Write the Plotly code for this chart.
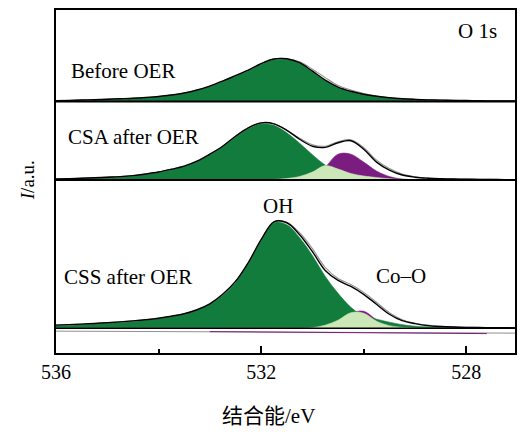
import plotly.graph_objects as go

# binding energy grid (eV)
energy = [536.0, 535.75, 535.5, 535.25, 535.0, 534.75, 534.5, 534.25, 534.0, 533.75,
          533.5, 533.25, 533.0, 532.75, 532.5, 532.25, 532.0, 531.75, 531.5, 531.25,
          531.0, 530.75, 530.5, 530.25, 530.0, 529.75, 529.5, 529.25, 529.0, 528.75,
          528.5, 528.25, 528.0, 527.75, 527.5, 527.25, 527.0]

# Before OER
p1_oh = [0.5, 0.8, 1.2, 1.6, 2.0, 2.5, 3.0, 3.8, 4.8, 6.2, 8.2, 11, 15, 20, 25.5, 31, 37.5, 42, 42.5, 38.5,
         30, 21, 14, 10, 7, 5, 3.5, 2.5, 2, 1.5, 1.2, 1, 0.8, 0.6, 0.5, 0.4, 0.3]
p1_fit = [0.7, 1, 1.4, 1.8, 2.2, 2.7, 3.2, 4, 5, 6.5, 8.5, 11.5, 15.5, 20.5, 26, 31.5, 38, 42.7, 43, 39,
          30.5, 21.5, 14.5, 10.3, 7.3, 5.2, 3.7, 2.7, 2.1, 1.6, 1.3, 1.1, 0.9, 0.7, 0.6, 0.5, 0.4]
p1_raw = [0.7, 1, 1.4, 1.8, 2.2, 2.7, 3.2, 4, 5, 6.5, 8.5, 11.5, 15.5, 20.5, 26, 31.5, 38, 42.7, 43, 40,
          32.5, 24, 16, 11.5, 8, 5.5, 3.8, 2.8, 2.1, 1.6, 1.3, 1.1, 0.9, 0.7, 0.6, 0.5, 0.4]

# CSA after OER
p2_oh = [1, 1.3, 1.7, 2.2, 2.8, 3.3, 4.3, 5.8, 7.8, 10.5, 13.5, 18.5, 25.5, 33.5, 43, 51.5, 56.5, 55, 47.5, 37,
         25.5, 15, 8, 4, 2, 1, 0.5, 0.3, 0.2, 0.2, 0.2, 0.2, 0.1, 0.1, 0.1, 0.1, 0.1]
p2_mid = [0, 0, 0, 0, 0, 0, 0, 0, 0, 0, 0, 0, 0, 0, 0, 0, 0.2, 0.5, 1.5, 3.5,
          8, 14.5, 11, 6.5, 4, 2.5, 1.2, 0.5, 0.2, 0, 0, 0, 0, 0, 0, 0, 0]
p2_coo = [0, 0, 0, 0, 0, 0, 0, 0, 0, 0, 0, 0, 0, 0, 0, 0, 0, 0, 0, 0.5,
          3, 13, 26, 26, 18, 9, 3.5, 1, 0.3, 0, 0, 0, 0, 0, 0, 0, 0]
p2_fit = [1, 1.3, 1.7, 2.2, 2.8, 3.4, 4.4, 6, 8, 10.8, 14, 19, 26, 34, 44, 52.5, 57.5, 56.5, 50, 41,
          34, 32.8, 37.5, 39.5, 31, 18, 10, 5, 2.8, 1.8, 1.3, 1, 0.8, 0.6, 0.5, 0.4, 0.3]
p2_raw = [1, 1.3, 1.7, 2.2, 2.8, 3.4, 4.4, 6, 8, 10.8, 14, 19, 26, 34, 44, 52.5, 57.5, 56.5, 50, 42,
          35.5, 34, 38.5, 40.5, 32.5, 20, 11.5, 6, 3.3, 2, 1.4, 1.1, 0.9, 0.7, 0.6, 0.5, 0.4]

# CSS after OER
p3_oh = [2.5, 3, 3.5, 4.2, 5, 5.8, 6.8, 8, 9.5, 11.5, 14, 18, 24, 33, 46, 65, 88, 106, 104, 91,
         73, 52, 35, 21, 12, 9, 6, 3.5, 2, 1.3, 1, 0.8, 0.6, 0.5, 0.4, 0.3, 0.3]
p3_mid = [0, 0, 0, 0, 0, 0, 0, 0, 0, 0, 0, 0, 0, 0, 0, 0, 0, 0, 0, 0,
          0.5, 3, 8, 15.5, 15, 7, 2.5, 0.8, 0.2, 0, 0, 0, 0, 0, 0, 0, 0]
p3_coo = [0, 0, 0, 0, 0, 0, 0, 0, 0, 0, 0, 0, 0, 0, 0, 0, 0, 0, 0, 0,
          0, 1, 6, 15, 17, 8.5, 3, 0.8, 0, 0, 0, 0, 0, 0, 0, 0, 0]
p3_fit = [3, 3.5, 4, 4.7, 5.5, 6.3, 7.3, 8.5, 10, 12, 14.5, 18.5, 24.5, 34, 47, 66, 89, 107, 106, 94,
          77, 58, 48, 42, 34, 24, 14, 7.5, 4.5, 2.5, 1.6, 1.1, 0.8, 0.6, 0.5, 0.4, 0.3]
p3_raw = [3, 3.5, 4, 4.7, 5.5, 6.3, 7.3, 8.5, 10, 12, 14.5, 18.5, 24.5, 34, 47, 66, 89, 107, 106.5, 96,
          80, 61, 50, 44, 36, 26, 15.5, 8.5, 5, 3, 1.8, 1.2, 0.9, 0.7, 0.5, 0.4, 0.3]

panel_names = ["Before OER", "CSA after OER", "CSS after OER"]
peak_labels = ["OH", "Co–O"]
tick_vals = [536, 532, 528]
minor_vals = [534, 530]

# vertical offsets of the stacked spectra (layout)
OFF1, OFF2, OFF3 = 253, 174, 25

GREEN = "#127c3d"
LIGHT = "#cce7b8"
PURPLE = "#7b1d80"
GRAY = "#8f8f8f"

fig = go.Figure()


def add_fill(vals, off, color):
    fig.add_trace(go.Scatter(x=energy, y=[off] * len(energy), mode="lines",
                             line=dict(width=0, color=color), hoverinfo="skip", showlegend=False))
    fig.add_trace(go.Scatter(x=energy, y=[off + v for v in vals], mode="lines",
                             line=dict(width=0.6, color=color, shape="spline"),
                             fill="tonexty", fillcolor=color, hoverinfo="skip", showlegend=False))


def add_line(vals, off, color, width):
    fig.add_trace(go.Scatter(x=energy, y=[off + v for v in vals], mode="lines",
                             line=dict(width=width, color=color, shape="spline"),
                             hoverinfo="skip", showlegend=False))


# panel 3
add_fill(p3_coo, OFF3, PURPLE)
add_fill(p3_oh, OFF3, GREEN)
add_fill(p3_mid, OFF3, LIGHT)
add_line(p3_raw, OFF3, GRAY, 1.1)
add_line(p3_fit, OFF3, "black", 1.4)

# panel 2
add_fill(p2_coo, OFF2, PURPLE)
add_fill(p2_oh, OFF2, GREEN)
add_fill(p2_mid, OFF2, LIGHT)
add_line(p2_raw, OFF2, GRAY, 1.1)
add_line(p2_fit, OFF2, "black", 1.4)

# panel 1
add_fill(p1_oh, OFF1, GREEN)
add_line(p1_raw, OFF1, GRAY, 1.1)
add_line(p1_fit, OFF1, "black", 1.4)

shapes = [
    dict(type="line", xref="paper", yref="y", x0=0, x1=1, y0=OFF1, y1=OFF1,
         line=dict(color="black", width=2)),
    dict(type="line", xref="paper", yref="y", x0=0, x1=1, y0=OFF2, y1=OFF2,
         line=dict(color="black", width=2)),
    dict(type="line", xref="paper", yref="y", x0=0, x1=1, y0=OFF3, y1=OFF3,
         line=dict(color="black", width=1.5)),
    dict(type="line", xref="x", yref="y", x0=536, x1=527.05, y0=OFF3 - 3, y1=OFF3 - 5,
         line=dict(color=GRAY, width=1)),
    dict(type="line", xref="x", yref="y", x0=533, x1=527.6, y0=OFF3 - 3.5, y1=OFF3 - 5.5,
         line=dict(color=PURPLE, width=1)),
]

SERIF = "Liberation Serif"
CJK = "Liberation Serif, Noto Sans CJK SC"


def label(x, y, text, size=21, xref="x", yref="y", family=SERIF, angle=0):
    return dict(x=x, y=y, xref=xref, yref=yref, text=text, showarrow=False,
                xanchor="center", yanchor="middle", textangle=angle,
                font=dict(family=family, size=size, color="black"))


ann = [
    label(527.79, 324, "O 1s"),
    label(534.70, 283.5, panel_names[0]),
    label(534.49, 217, panel_names[1]),
    label(534.59, 76, panel_names[2]),
    label(531.68, 147.5, peak_labels[0]),
    label(529.28, 77, peak_labels[1]),
    label(0.463, -0.184, "结合能/eV", xref="paper", yref="paper", family=CJK),
    label(-0.063, 0.504, "<i>I</i>/a.u.", size=19, xref="paper", yref="paper", angle=-90),
]

fig.update_layout(
    width=528, height=432,
    margin=dict(l=56, r=13, t=8, b=79),
    paper_bgcolor="white", plot_bgcolor="white",
    shapes=shapes, annotations=ann,
    xaxis=dict(range=[536, 527.05], tickvals=tick_vals, ticktext=[str(v) for v in tick_vals],
               ticks="inside", ticklen=7, tickwidth=1.5, tickcolor="black",
               minor=dict(tickvals=minor_vals, ticks="inside", ticklen=4, tickwidth=1.5, tickcolor="black"),
               showline=True, linecolor="black", linewidth=2, mirror=True,
               showgrid=False, zeroline=False,
               tickfont=dict(family=SERIF, size=20, color="black")),
    yaxis=dict(range=[0, 345], showticklabels=False, ticks="",
               showline=True, linecolor="black", linewidth=2, mirror=True,
               showgrid=False, zeroline=False),
)

fig.write_html("out.html")
